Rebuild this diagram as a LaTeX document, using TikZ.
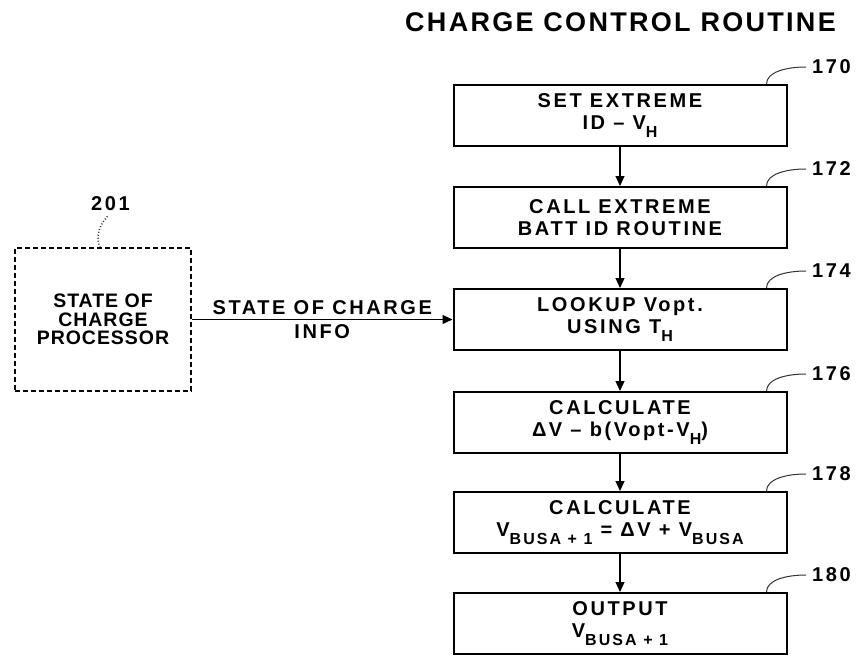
\documentclass[tikz,border=0pt]{standalone}
\usepackage{fontspec}
\usepackage{tikz}
\usetikzlibrary{arrows.meta}
\newfontfamily\flowfont{Liberation Sans}[LetterSpace=13]
\newfontfamily\procfont{Liberation Sans}[LetterSpace=5]
\newfontfamily\titlefont{Liberation Sans}[LetterSpace=8.5]
\newcommand{\lowsub}[1]{\raisebox{-8pt}{\fontsize{16}{16}\selectfont #1}}
\pgfdeclarelayer{edgelayer}
\pgfdeclarelayer{nodelayer}
\pgfsetlayers{edgelayer,nodelayer,main}
\tikzstyle{stepbox}=[draw=black, fill=white, line width=2pt, minimum width=333pt, minimum height=61pt, inner sep=0pt, align=center, font=\flowfont\bfseries\fontsize{20}{22}\selectfont]
\tikzstyle{procbox}=[draw=black, fill=white, dash pattern=on 5pt off 3pt, line width=2pt, minimum width=176pt, minimum height=143pt, inner sep=0pt, align=center, font=\procfont\bfseries\fontsize{19.5}{18.5}\selectfont]
\tikzstyle{title}=[inner sep=0pt, font=\titlefont\bfseries\fontsize{27}{30}\selectfont]
\tikzstyle{refnum}=[anchor=west, inner sep=0pt, font=\flowfont\bfseries\fontsize{20}{22}\selectfont]
\tikzstyle{arrowtext}=[inner sep=0pt, align=center, font=\flowfont\bfseries\fontsize{20}{24}\selectfont]
\tikzstyle{flow}=[draw=black, line width=1.2pt, -{Triangle[length=10pt,width=9pt]}]
\tikzstyle{leader}=[draw=black!80, line width=1pt]

\begin{document}
\begin{tikzpicture}[x=1pt, y=-1pt]
	\useasboundingbox (0,0) rectangle (864,656);
	\begin{pgfonlayer}{nodelayer}
		\node [style=title] (title) at (620.5,22) {CHARGE CONTROL ROUTINE};
		\node [style=stepbox] (set) at (620,115.5) {SET EXTREME\\ID – V\lowsub{H}};
		\node [style=stepbox] (call) at (620,217.5) {CALL EXTREME\\BATT ID ROUTINE};
		\node [style=stepbox] (lookup) at (620,319.5) {LOOKUP Vopt.\\USING T\lowsub{H}};
		\node [style=stepbox] (delta) at (620,422.5) {CALCULATE\\ΔV – b(Vopt-V\lowsub{H})};
		\node [style=stepbox] (bus) at (620,522.5) {CALCULATE\\V\lowsub{BUSA + 1} = ΔV + V\lowsub{BUSA}};
		\node [style=stepbox] (output) at (620,623.5) {OUTPUT\\V\lowsub{BUSA + 1}};
		\node [style=refnum] (n170) at (812,67) {170};
		\node [style=refnum] (n172) at (812,169) {172};
		\node [style=refnum] (n174) at (812,271) {174};
		\node [style=refnum] (n176) at (812,374) {176};
		\node [style=refnum] (n178) at (812,474) {178};
		\node [style=refnum] (n180) at (812,575) {180};
		\node [style=procbox] (proc) at (103,319.5) {STATE OF\\CHARGE\\PROCESSOR};
		\node [style=refnum, anchor=center] (n201) at (110.5,204) {201};
	\end{pgfonlayer}
	\begin{pgfonlayer}{edgelayer}
		\draw [style=flow] (set) to (call);
		\draw [style=flow] (call) to (lookup);
		\draw [style=flow] (lookup) to (delta);
		\draw [style=flow] (delta) to (bus);
		\draw [style=flow] (bus) to (output);
		\draw [style=flow] (proc.east) to node [style=arrowtext] {STATE OF CHARGE\\INFO} (lookup.west);
		% reference numerals
		\draw [style=leader] ([xshift=-21pt]set.north east) .. controls +(0,-12) and +(-20,0) .. ([xshift=-6pt]n170.west);
		\draw [style=leader] ([xshift=-21pt]call.north east) .. controls +(0,-12) and +(-20,0) .. ([xshift=-6pt]n172.west);
		\draw [style=leader] ([xshift=-21pt]lookup.north east) .. controls +(0,-12) and +(-20,0) .. ([xshift=-6pt]n174.west);
		\draw [style=leader] ([xshift=-21pt]delta.north east) .. controls +(0,-12) and +(-20,0) .. ([xshift=-6pt]n176.west);
		\draw [style=leader] ([xshift=-21pt]bus.north east) .. controls +(0,-12) and +(-20,0) .. ([xshift=-6pt]n178.west);
		\draw [style=leader] ([xshift=-21pt]output.north east) .. controls +(0,-12) and +(-20,0) .. ([xshift=-6pt]n180.west);
		\draw [style=leader, dotted, line width=1.5pt] ([xshift=-3pt,yshift=-5pt]n201.south) .. controls +(-10,11) and +(-4,-8) .. ([xshift=-3pt]proc.north);
	\end{pgfonlayer}
\end{tikzpicture}
\end{document}
